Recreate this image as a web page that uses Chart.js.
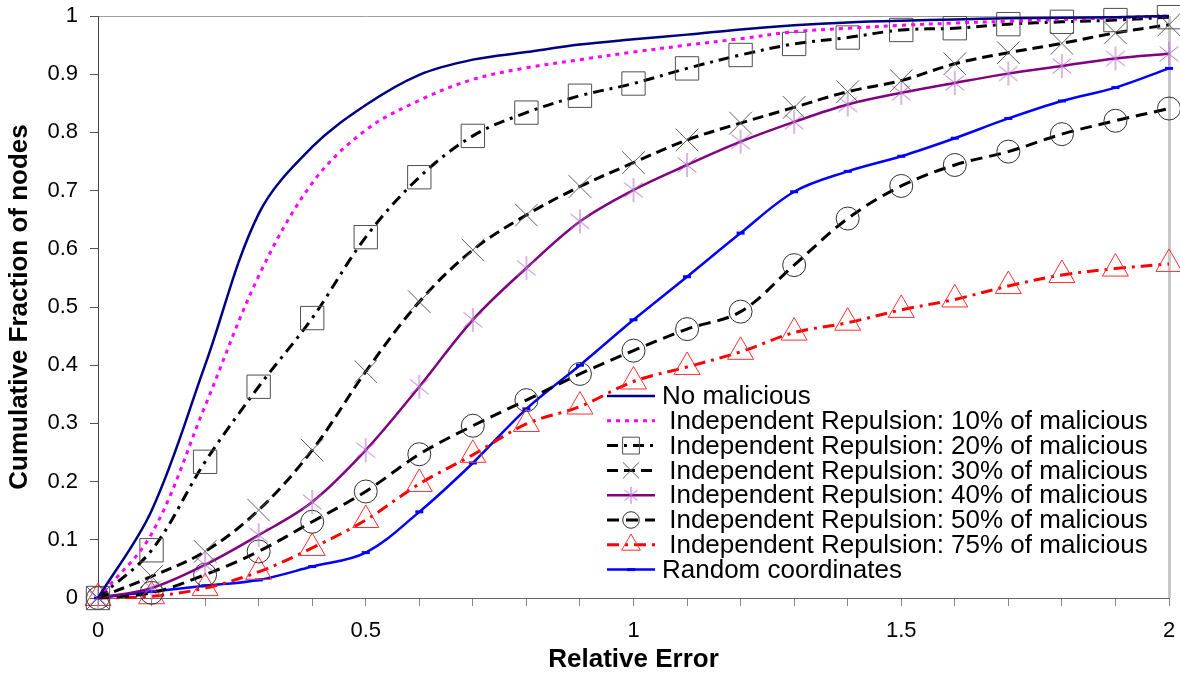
<!DOCTYPE html>
<html>
<head>
<meta charset="utf-8">
<title>Cumulative Fraction of nodes</title>
<script src="https://cdn.jsdelivr.net/npm/chart.js@4.4.1/dist/chart.umd.min.js"></script>
<style>
  html, body { margin: 0; padding: 0; background: #fff; }
  #box { width: 1180px; height: 675px; }
</style>
</head>
<body>
<div id="box"><canvas id="grafico-cdf" width="1180" height="675"></canvas></div>
<script>
// valori (errore relativo 0..2, passo 0.1)
var errori = [0, 0.1, 0.2, 0.3, 0.4, 0.5, 0.6, 0.7, 0.8, 0.9, 1, 1.1, 1.2, 1.3, 1.4, 1.5, 1.6, 1.7, 1.8, 1.9, 2];

var noMalicious = [0, 0.15, 0.40, 0.66, 0.775, 0.847, 0.899, 0.925, 0.938, 0.951, 0.96, 0.968, 0.977, 0.984, 0.989, 0.992, 0.994, 0.996, 0.997, 0.998, 1.0];
var rep10 = [0, 0.11, 0.33, 0.553, 0.713, 0.804, 0.855, 0.891, 0.911, 0.925, 0.938, 0.95, 0.961, 0.973, 0.979, 0.984, 0.988, 0.991, 0.994, 0.997, 1.0];
var rep20 = [0, 0.082, 0.234, 0.363, 0.481, 0.62, 0.723, 0.794, 0.834, 0.863, 0.884, 0.91, 0.933, 0.952, 0.963, 0.976, 0.979, 0.986, 0.99, 0.993, 0.998];
var rep30 = [0, 0.037, 0.08, 0.151, 0.254, 0.389, 0.509, 0.598, 0.658, 0.707, 0.748, 0.787, 0.816, 0.843, 0.87, 0.889, 0.918, 0.937, 0.953, 0.971, 0.985];
var rep40 = [0, 0.017, 0.057, 0.108, 0.165, 0.254, 0.363, 0.478, 0.567, 0.647, 0.701, 0.744, 0.784, 0.818, 0.848, 0.868, 0.885, 0.901, 0.914, 0.927, 0.935];
var rep50 = [0, 0.009, 0.04, 0.08, 0.131, 0.183, 0.247, 0.296, 0.34, 0.385, 0.425, 0.462, 0.492, 0.572, 0.652, 0.708, 0.744, 0.767, 0.797, 0.82, 0.841];
var rep75 = [0, 0.003, 0.017, 0.045, 0.086, 0.134, 0.196, 0.246, 0.299, 0.329, 0.372, 0.397, 0.423, 0.456, 0.473, 0.495, 0.513, 0.536, 0.555, 0.566, 0.574];
var randomCoord = [0, 0.011, 0.021, 0.031, 0.054, 0.078, 0.148, 0.232, 0.325, 0.40, 0.478, 0.552, 0.627, 0.698, 0.733, 0.759, 0.79, 0.824, 0.854, 0.877, 0.91];

var etichette = [
    "No malicious",
    " Independent Repulsion: 10% of malicious",
    " Independent Repulsion: 20% of malicious",
    " Independent Repulsion: 30% of malicious",
    " Independent Repulsion: 40% of malicious",
    " Independent Repulsion: 50% of malicious",
    " Independent Repulsion: 75% of malicious",
    "Random coordinates"
];

var FONT = "'Liberation Sans', Arial, sans-serif";

function punti(valori) {
    var out = [];
    for (var i = 0; i < errori.length; i++) {
        out.push({ x: errori[i], y: valori[i] });
    }
    return out;
}

// asterisco stile Excel (verticale + due diagonali)
function asterisco(r) {
    var c = document.createElement('canvas');
    var s = Math.ceil(r * 2 + 2);
    c.width = s; c.height = s;
    var g = c.getContext('2d');
    var m = s / 2;
    g.strokeStyle = '#b36fc6';
    g.lineWidth = 1;
    g.beginPath();
    g.moveTo(m, m - r); g.lineTo(m, m + r);
    g.moveTo(m - r * 0.78, m - r * 0.62); g.lineTo(m + r * 0.78, m + r * 0.62);
    g.moveTo(m + r * 0.78, m - r * 0.62); g.lineTo(m - r * 0.78, m + r * 0.62);
    g.stroke();
    return c;
}

function serie(i, valori, colore, spessore, tratteggio, stile, raggio, bordoPunto, extra) {
    var ds = {
        label: etichette[i],
        data: punti(valori),
        borderColor: colore,
        borderWidth: spessore,
        borderDash: tratteggio,
        pointStyle: stile,
        pointRadius: raggio,
        pointBorderColor: bordoPunto,
        pointBackgroundColor: 'rgba(0,0,0,0)',
        pointBorderWidth: 1,
        tension: 0.35,
        fill: false,
        clip: false
    };
    for (var k in extra) ds[k] = extra[k];
    return ds;
}

var datasets = [
    serie(0, noMalicious, '#000080', 2.5, [], false, 0, '#000080'),
    serie(1, rep10, '#ff00ff', 3, [4, 5], false, 0, '#ff00ff'),
    serie(2, rep20, '#000000', 3, [11, 6, 3, 6], 'rect', 16.5, '#505050'),
    serie(3, rep30, '#000000', 3, [11, 6], 'crossRot', 16, '#606060'),
    serie(4, rep40, '#800080', 2.5, [], asterisco(12), 12, '#b36fc6', { legendPoint: asterisco(8.5) }),
    serie(5, rep50, '#000000', 3, [12, 7], 'circle', 11.5, '#303030'),
    serie(6, rep75, '#ff0000', 3, [12, 6, 3, 6], 'triangle', 15, '#ff3030'),
    serie(7, randomCoord, '#0000ff', 2.5, [], 'line', 4, '#0000ff', { pointBorderWidth: 3 })
];

// legenda dentro l'area del grafico, in basso a destra
var legendaInterna = {
    id: 'legendaInterna',
    afterDraw: function(chart) {
        var ctx = chart.ctx;
        var sets = chart.data.datasets;
        var x0 = 607, x1 = 655, xt = 662, y0 = 396, passo = 24.8;
        ctx.save();
        for (var i = 0; i < sets.length; i++) {
            var ds = sets[i];
            var y = y0 + i * passo;
            ctx.strokeStyle = ds.borderColor;
            ctx.lineWidth = ds.borderWidth;
            ctx.setLineDash(ds.borderDash || []);
            ctx.beginPath();
            ctx.moveTo(x0, y);
            ctx.lineTo(x1, y);
            ctx.stroke();
            ctx.setLineDash([]);
            if (ds.pointRadius > 0) {
                var stile = ds.legendPoint || ds.pointStyle;
                ctx.strokeStyle = ds.pointBorderColor;
                ctx.fillStyle = 'rgba(0,0,0,0)';
                ctx.lineWidth = ds.pointBorderWidth;
                Chart.helpers.drawPoint(ctx, {
                    pointStyle: stile,
                    radius: ds.pointStyle === 'line' ? ds.pointRadius : ds.pointRadius * 0.72,
                    rotation: 0,
                    borderWidth: ds.pointBorderWidth
                }, (x0 + x1) / 2, y);
            }
            ctx.fillStyle = '#000';
            ctx.font = '26px ' + FONT;
            ctx.textBaseline = 'middle';
            ctx.textAlign = 'left';
            ctx.fillText(ds.label, xt, y + 1);
        }
        ctx.restore();
    }
};

var ctx = document.getElementById('grafico-cdf');
var chart = new Chart(ctx, {
    type: 'line',
    data: { datasets: datasets },
    options: {
        responsive: false,
        animation: false,
        events: [],
        layout: { autoPadding: false, padding: { top: 16, right: 11, left: 0, bottom: 0 } },
        plugins: {
            legend: { display: false },
            tooltip: { enabled: false }
        },
        scales: {
            x: {
                type: 'linear',
                min: 0,
                max: 2,
                ticks: {
                    stepSize: 0.1,
                    autoSkip: false,
                    maxRotation: 0,
                    padding: 12,
                    color: '#000',
                    font: { family: FONT, size: 22 },
                    callback: function(v) {
                        var h = Math.round(v * 2);
                        if (Math.abs(v * 2 - h) > 1e-6) return '';
                        return String(h / 2);
                    }
                },
                grid: {
                    drawOnChartArea: true,
                    color: function(c) { return (c.tick && Math.abs(c.tick.value - 2) < 1e-6) ? '#c8c8c8' : 'rgba(0,0,0,0)'; },
                    lineWidth: function(c) { return (c.tick && Math.abs(c.tick.value - 2) < 1e-6) ? 3 : 1; },
                    tickColor: '#888',
                    tickWidth: 1,
                    tickLength: 8
                },
                border: { display: true, color: '#666', width: 1 },
                title: {
                    display: true,
                    text: 'Relative Error',
                    color: '#000',
                    font: { family: FONT, size: 26, weight: 'bold' },
                    padding: { top: 0, bottom: 0 }
                },
                afterFit: function(scale) {
                    scale.height = 77;
                    scale.paddingLeft = 0;
                    scale.paddingRight = 0;
                }
            },
            y: {
                min: 0,
                max: 1,
                ticks: {
                    stepSize: 0.1,
                    padding: 12,
                    color: '#000',
                    font: { family: FONT, size: 22 },
                    callback: function(v) { return String(Number(v.toFixed(1))); }
                },
                grid: {
                    drawOnChartArea: true,
                    color: function(c) { return (c.tick && Math.abs(c.tick.value - 1) < 1e-6) ? '#a0a0a0' : 'rgba(0,0,0,0)'; },
                    tickColor: '#555',
                    tickWidth: 1,
                    tickLength: 8
                },
                border: { display: true, color: '#444', width: 1 },
                title: {
                    display: true,
                    text: 'Cumulative Fraction of nodes',
                    color: '#000',
                    font: { family: FONT, size: 26, weight: 'bold' },
                    padding: { top: 4, bottom: 0 }
                },
                afterFit: function(scale) {
                    scale.width = 98;
                    scale.paddingTop = 0;
                    scale.paddingBottom = 0;
                }
            }
        }
    },
    plugins: [legendaInterna]
});
</script>
</body>
</html>
